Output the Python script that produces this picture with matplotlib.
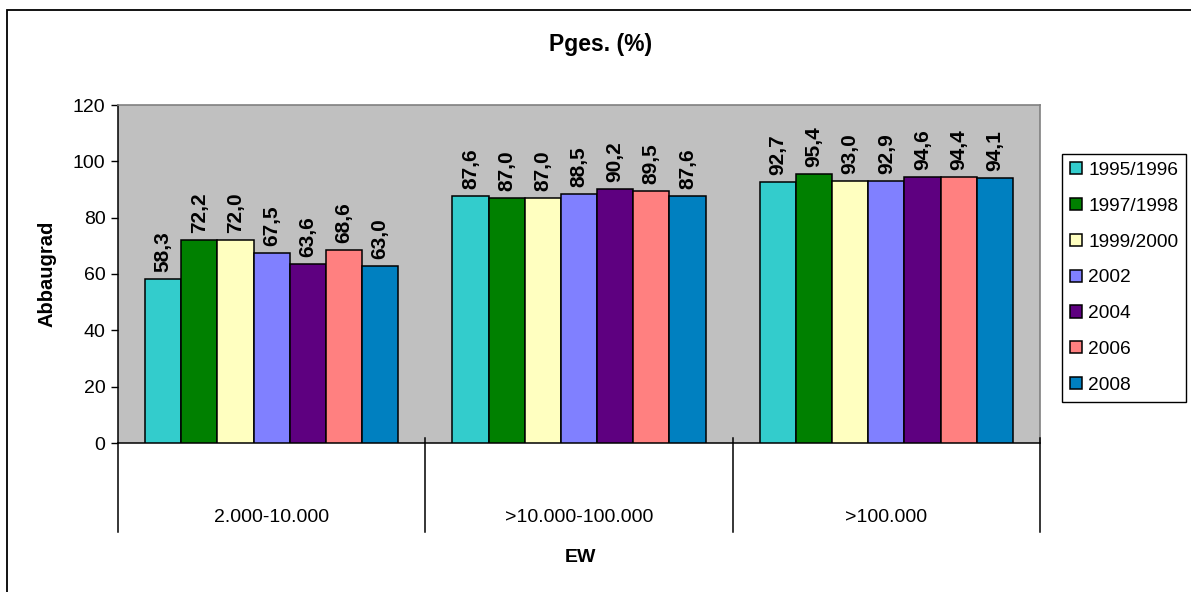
import matplotlib
matplotlib.use("Agg")
import matplotlib.pyplot as plt
import matplotlib.transforms as mtransforms
from matplotlib.patches import Patch, Rectangle
import numpy as np

plt.rcParams["font.family"] = ["Liberation Sans", "DejaVu Sans"]

categories = ["2.000-10.000", ">10.000-100.000", ">100.000"]
series_names = ["1995/1996", "1997/1998", "1999/2000", "2002", "2004", "2006", "2008"]
values = [
    [58.3, 87.6, 92.7],   # 1995/1996
    [72.2, 87.0, 95.4],   # 1997/1998
    [72.0, 87.0, 93.0],   # 1999/2000
    [67.5, 88.5, 92.9],   # 2002
    [63.6, 90.2, 94.6],   # 2004
    [68.6, 89.5, 94.4],   # 2006
    [63.0, 87.6, 94.1],   # 2008
]
colors = ["#33CCCC", "#008000", "#FFFFC0", "#8080FF", "#5E0080", "#FF8080", "#0080C0"]
y_ticks = [0, 20, 40, 60, 80, 100, 120]

W, H = 1191, 592
fig = plt.figure(figsize=(W / 100, H / 100), dpi=100)

# plot area in pixel coords (left, top, right, bottom)
pl, pt, pr, pb = 118, 105, 1040, 443
ax = fig.add_axes([pl / W, 1 - pb / H, (pr - pl) / W, (pb - pt) / H])
ax.set_facecolor("#C0C0C0")

n = len(series_names)
bw = 1 / (n + 1.5)
x = np.arange(len(categories))
for i, (name, vals, c) in enumerate(zip(series_names, values, colors)):
    bars = ax.bar(x + (i - (n - 1) / 2) * bw, vals, width=bw, color=c,
                  edgecolor="black", linewidth=1.1, label=name, zorder=3)
    for b, v in zip(bars, vals):
        ax.annotate(f"{v:.1f}".replace(".", ","),
                    (b.get_x() + b.get_width() / 2, b.get_height()),
                    xytext=(0, 5), textcoords="offset points",
                    rotation=90, ha="center", va="bottom",
                    fontsize=15, fontweight="bold")

ax.set_xlim(-0.5, len(categories) - 0.5)
ax.set_ylim(0, 120)
ax.set_yticks(y_ticks)
ax.tick_params(axis="y", labelsize=14, length=5, width=1, direction="out", pad=4)
ax.set_xticks([])

for s in ["top", "right"]:
    ax.spines[s].set_color("#808080")
    ax.spines[s].set_linewidth(1.2)
for s in ["left", "bottom"]:
    ax.spines[s].set_color("black")
    ax.spines[s].set_linewidth(1.1)

# category boxes under the axis
trans = mtransforms.blended_transform_factory(ax.transData, ax.transAxes)
low = -(532 - pb) / (pb - pt)
up = 5 / (pb - pt)
for k, xs in enumerate(np.arange(-0.5, len(categories), 1.0)):
    top = 0 if k == 0 else up
    ax.plot([xs, xs], [low, top], color="black", lw=1.1, transform=trans,
            clip_on=False, zorder=5)
for xi, cat in zip(x, categories):
    ax.text(xi, -(517 - pb) / (pb - pt), cat, transform=trans,
            ha="center", va="center", fontsize=14)

ax.set_ylabel("Abbaugrad", fontsize=14.5, fontweight="bold", labelpad=12)
fig.text(580 / W, 1 - 557 / H, "EW", ha="center", va="center",
         fontsize=14, fontweight="bold")
fig.text(601 / W, 1 - 45 / H, "Pges. (%)", ha="center", va="center",
         fontsize=16.5, fontweight="bold")

handles = [Patch(facecolor=c, edgecolor="black", linewidth=1.1) for c in colors]
leg = fig.legend(handles, series_names, loc="upper left",
                 bbox_to_anchor=(1062 / W, 1 - 154 / H), borderaxespad=0,
                 fontsize=13.8, frameon=True, fancybox=False, framealpha=1,
                 edgecolor="black", handlelength=0.6, handleheight=0.6,
                 handletextpad=0.35, labelspacing=0.98, borderpad=0.42)
leg.get_frame().set_linewidth(1.0)

# outer chart border
fig.patches.append(Rectangle((7 / W, -0.05), 1.1, 1 - 10 / H + 0.05,
                             transform=fig.transFigure, fill=False,
                             edgecolor="black", linewidth=1.3))

fig.savefig("out.png", dpi=100, facecolor="white")
